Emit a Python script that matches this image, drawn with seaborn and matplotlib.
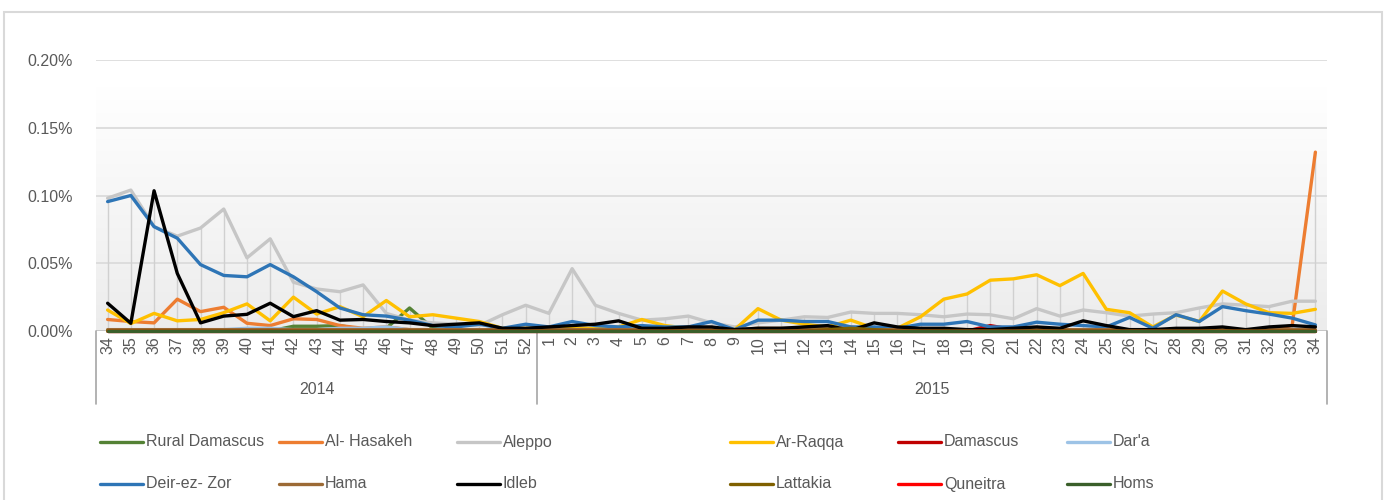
import numpy as np
import pandas as pd
import matplotlib
matplotlib.use("Agg")
import matplotlib.pyplot as plt
from matplotlib.lines import Line2D
from matplotlib.patches import Rectangle
from matplotlib.colors import LinearSegmentedColormap
import seaborn as sns

# ---------------- data (values in %) ----------------
weeks_2014 = list(range(34, 53))
weeks_2015 = list(range(1, 35))
week_labels = [str(w) for w in weeks_2014 + weeks_2015]
years = ["2014", "2015"]

regions = ["Rural Damascus", "Al- Hasakeh", "Aleppo", "Ar-Raqqa", "Damascus", "Dar'a",
           "Deir-ez- Zor", "Hama", "Idleb", "Lattakia", "Quneitra", "Homs"]
colors = ["#548235", "#ED7D31", "#C6C6C6", "#FFC000", "#C00000", "#9DC3E6",
          "#2E75B6", "#9C6A35", "#000000", "#7F6000", "#FF0000", "#3A5F2A"]

rural_damascus = [0, 0, 0, 0, 0, 0, 0, 0, 0.0035, 0.0035, 0.004, 0.001, 0.002, 0.017, 0.002, 0, 0, 0, 0,
                  0, 0, 0, 0, 0, 0, 0, 0, 0, 0, 0, 0, 0, 0, 0, 0, 0,
                  0, 0, 0, 0, 0, 0, 0, 0, 0, 0, 0, 0, 0, 0, 0, 0, 0]
al_hasakeh = [0.0085, 0.007, 0.006, 0.0235, 0.0143, 0.0175, 0.0057, 0.004, 0.009, 0.0085, 0.004, 0.002,
              0.003, 0.001, 0.001, 0.001, 0.001, 0.0005, 0.0005,
              0.001, 0.001, 0.001, 0.001, 0.001, 0.001, 0.001, 0.001, 0.0005, 0.001, 0.001, 0.001, 0.001,
              0.003, 0.001, 0.001, 0.001, 0.001, 0.001, 0.001, 0.001, 0.001, 0.001, 0.001, 0.001, 0.001,
              0.001, 0.001, 0.001, 0.001, 0.001, 0.001, 0.004, 0.132]
aleppo = [0.098, 0.104, 0.077, 0.070, 0.076, 0.090, 0.054, 0.068, 0.036, 0.031, 0.029, 0.034, 0.013,
          0.008, 0.006, 0.005, 0.004, 0.012, 0.019,
          0.013, 0.046, 0.019, 0.013, 0.008, 0.009, 0.011, 0.006, 0.003, 0.006, 0.008, 0.0105, 0.010,
          0.014, 0.013, 0.013, 0.012, 0.0105, 0.0125, 0.012, 0.009, 0.0165, 0.011, 0.0155, 0.0135,
          0.011, 0.0125, 0.0135, 0.017, 0.020, 0.019, 0.018, 0.022, 0.022]
ar_raqqa = [0.0155, 0.0055, 0.013, 0.0075, 0.0085, 0.0135, 0.020, 0.0075, 0.025, 0.0125, 0.018, 0.0105,
            0.0225, 0.0105, 0.012, 0.0095, 0.007, 0.002, 0.002,
            0.002, 0.002, 0.002, 0.003, 0.0085, 0.004, 0.002, 0.002, 0.001, 0.0165, 0.008, 0.005, 0.003,
            0.008, 0.002, 0.002, 0.0105, 0.0235, 0.0273, 0.0375, 0.0385, 0.0415, 0.0335, 0.0425, 0.016,
            0.0135, 0.003, 0.0118, 0.007, 0.0295, 0.020, 0.0135, 0.013, 0.016]
damascus = [0, 0, 0, 0, 0, 0, 0, 0, 0, 0, 0, 0, 0, 0, 0, 0, 0, 0, 0,
            0, 0, 0, 0, 0, 0, 0, 0, 0, 0, 0, 0, 0, 0.001, 0, 0, 0, 0, 0, 0.004, 0.001, 0, 0,
            0, 0, 0, 0, 0, 0, 0, 0, 0, 0, 0]
dara = [0, 0, 0, 0, 0, 0.001, 0.002, 0.002, 0.001, 0.001, 0.002, 0.002, 0.003, 0.001, 0.001, 0.001, 0.001, 0, 0,
        0, 0.001, 0.001, 0, 0, 0, 0, 0, 0, 0, 0, 0, 0, 0, 0, 0, 0, 0, 0, 0, 0, 0, 0,
        0, 0, 0, 0, 0, 0, 0, 0, 0, 0, 0]
deir_ez_zor = [0.0955, 0.100, 0.077, 0.0685, 0.049, 0.041, 0.040, 0.049, 0.040, 0.029, 0.017, 0.012,
               0.011, 0.008, 0.004, 0.003, 0.005, 0.002, 0.005,
               0.003, 0.007, 0.004, 0.003, 0.004, 0.003, 0.003, 0.007, 0.001, 0.008, 0.008, 0.007, 0.007,
               0.003, 0.003, 0.002, 0.005, 0.005, 0.007, 0.003, 0.003, 0.0065, 0.005, 0.004, 0.003,
               0.010, 0.002, 0.012, 0.007, 0.018, 0.015, 0.0125, 0.0095, 0.0045]
hama = [0.001, 0.001, 0.001, 0.001, 0.001, 0.001, 0.001, 0.001, 0.001, 0.001, 0.001, 0.001, 0.001, 0.001,
        0.001, 0.001, 0.001, 0.001, 0.001,
        0.001, 0.001, 0.001, 0.001, 0.001, 0.001, 0.001, 0.001, 0.001, 0.002, 0.002, 0.002, 0.002,
        0.001, 0.001, 0.001, 0.001, 0.001, 0.001, 0.001, 0.001, 0.001, 0.001, 0.001, 0.001,
        0.001, 0.001, 0.001, 0.001, 0.001, 0.001, 0.001, 0.001, 0.001]
idleb = [0.0205, 0.0057, 0.1035, 0.0425, 0.006, 0.011, 0.0123, 0.0205, 0.0106, 0.015, 0.008, 0.0085,
         0.007, 0.006, 0.004, 0.005, 0.006, 0.002, 0.002,
         0.003, 0.004, 0.005, 0.0075, 0.002, 0.002, 0.003, 0.003, 0.001, 0.002, 0.002, 0.003, 0.004,
         0.0005, 0.006, 0.003, 0.002, 0.002, 0.001, 0.001, 0.002, 0.003, 0.002, 0.0075, 0.004,
         0.001, 0.001, 0.002, 0.002, 0.003, 0.001, 0.003, 0.004, 0.003]
lattakia = [0, 0, 0, 0, 0, 0, 0, 0, 0, 0, 0, 0, 0, 0, 0, 0, 0, 0, 0,
            0, 0, 0, 0, 0, 0, 0, 0, 0, 0, 0, 0, 0.001, 0.002, 0.001, 0, 0, 0, 0, 0, 0, 0, 0,
            0, 0, 0, 0, 0, 0, 0, 0, 0, 0, 0]
quneitra = [0] * 53
homs = [0] * 53

series = [rural_damascus, al_hasakeh, aleppo, ar_raqqa, damascus, dara,
          deir_ez_zor, hama, idleb, lattakia, quneitra, homs]

n = len(week_labels)
df = pd.concat([pd.DataFrame({"x": np.arange(n), "value": s, "region": r})
                for r, s in zip(regions, series)], ignore_index=True)

# ---------------- figure ----------------
sns.set_style("white")
plt.rcParams["font.family"] = ["Liberation Sans", "DejaVu Sans"]
TXT = "#595959"
W, H = 1386, 500

fig = plt.figure(figsize=(W / 100, H / 100), dpi=100)
fig.patch.set_facecolor("white")
fig.add_artist(Rectangle((4 / W, -0.05), (1382 - 4) / W, 1.05 - 12 / H, transform=fig.transFigure,
                         fill=False, edgecolor="#d9d9d9", linewidth=1.5))

ax = fig.add_axes([96 / W, 1 - 331 / H, (1327 - 96) / W, (331 - 60) / H])
ax.set_facecolor("white")

# gradient background
cmap = LinearSegmentedColormap.from_list("g", ["#ececec", "#ffffff"])
grad = np.linspace(0, 1, 256).reshape(-1, 1)
ax.imshow(grad, extent=[-0.5, n - 0.5, 0, 0.18], origin="lower", aspect="auto", cmap=cmap,
          zorder=-2, interpolation="bilinear")

# gridlines
for yv in [0.05, 0.10, 0.15, 0.20]:
    ax.axhline(yv, color="#d9d9d9", linewidth=1.2, zorder=-1)

# drop lines
maxvals = df.groupby("x")["value"].max().values
ax.vlines(np.arange(n), 0, maxvals, color="#d0d0d0", linewidth=1.0, zorder=0)

# axis line
ax.axhline(0, color="#bfbfbf", linewidth=1.2, zorder=1)

palette = dict(zip(regions, colors))
sns.lineplot(data=df, x="x", y="value", hue="region", hue_order=regions, palette=palette,
             linewidth=2.4, legend=False, ax=ax, sort=False, zorder=3)
for ln in ax.get_lines():
    if ln.get_zorder() == 3:
        ln.set_solid_joinstyle("round")
        ln.set_solid_capstyle("round")
        ln.set_clip_on(False)

ax.set_xlim(-0.5, n - 0.5)
ax.set_ylim(0, 0.20)
ax.set_yticks([0, 0.05, 0.10, 0.15, 0.20])
ax.set_yticklabels([f"{v:.2f}%" for v in [0, 0.05, 0.10, 0.15, 0.20]])
ax.set_xticks(np.arange(n))
ax.set_xticklabels(week_labels, rotation=90)
ax.tick_params(axis="y", length=0, pad=17, labelsize=11.5, labelcolor=TXT)
ax.tick_params(axis="x", length=0, pad=4, labelsize=11.5, labelcolor=TXT)
ax.set_xlabel("")
ax.set_ylabel("")
for sp in ax.spines.values():
    sp.set_visible(False)

# category axis structure
sep_bottom = -(404 - 331) / (331 - 60)
for xs in [-0.5, len(weeks_2014) - 0.5, n - 0.5]:
    ax.plot([xs, xs], [0, sep_bottom], transform=ax.get_xaxis_transform(), color="#a6a6a6",
            linewidth=1.2, clip_on=False)
year_y = -(390 - 331) / (331 - 60)
ax.text((len(weeks_2014) - 1) / 2, year_y, years[0], transform=ax.get_xaxis_transform(),
        ha="center", va="center", fontsize=11.5, color=TXT)
ax.text(len(weeks_2014) + (len(weeks_2015) - 1) / 2, year_y, years[1],
        transform=ax.get_xaxis_transform(), ha="center", va="center", fontsize=11.5, color=TXT)

# legend (2 rows x 6 columns)
col_x = [100, 279, 457, 730, 898, 1067]
row_y = [442, 484]
for k, (r, c) in enumerate(zip(regions, colors)):
    row, col = divmod(k, 6)
    x0 = col_x[col]
    y0 = 1 - row_y[row] / H
    fig.add_artist(Line2D([x0 / W, (x0 + 43) / W], [y0, y0], color=c, linewidth=2.4,
                          solid_capstyle="round", transform=fig.transFigure))
    fig.text((x0 + 46) / W, y0, r, ha="left", va="center", fontsize=11.5, color=TXT)

fig.savefig("out.png", dpi=100, facecolor="white")
